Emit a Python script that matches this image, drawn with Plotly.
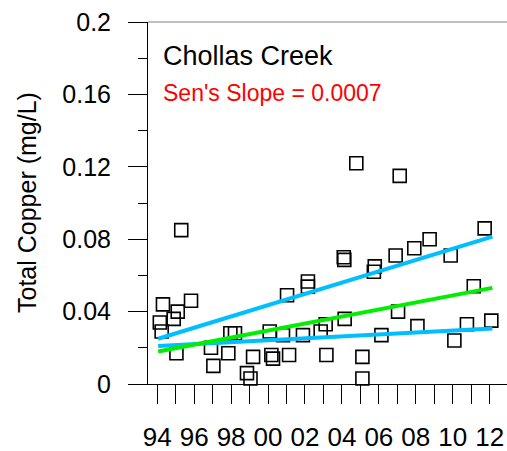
import plotly.graph_objects as go

# ---- data ----
sample_year = [1995.30, 1994.31, 1995.11, 1995.83, 1994.14, 1994.89, 1994.24, 1995.04,
               1997.96, 1998.21, 1996.91, 1997.85, 1997.04, 1999.19, 1998.86, 1999.05,
               2000.09, 2000.18, 2000.27, 2001.14, 2000.81, 2001.03, 2002.16, 2002.16,
               2001.89, 2003.12, 2002.85, 2004.15, 2003.16, 2004.10, 2004.13, 2005.11,
               2005.11, 2005.78, 2005.73, 2004.78, 2007.13, 2006.14, 2006.91, 2007.92,
               2008.75, 2009.89, 2011.73, 2007.04, 2008.09, 2011.14, 2010.77, 2010.09,
               2012.09]
copper = [0.085, 0.044, 0.040, 0.046, 0.034, 0.036, 0.029, 0.017,
          0.028, 0.028, 0.020, 0.017, 0.010, 0.015, 0.006, 0.003,
          0.029, 0.016, 0.014, 0.016, 0.027, 0.049, 0.0566, 0.0538,
          0.027, 0.033, 0.029, 0.036, 0.016, 0.070, 0.0686, 0.015,
          0.003, 0.065, 0.062, 0.122, 0.115, 0.027, 0.071, 0.075,
          0.080, 0.071, 0.086, 0.040, 0.032, 0.054, 0.033, 0.024,
          0.035]

trend_year = [1994.05, 2012.15]
upper_ci = [0.025, 0.0814]
sen_line = [0.018, 0.0531]
lower_ci = [0.021, 0.0307]

major_years = [1994, 1996, 1998, 2000, 2002, 2004, 2006, 2008, 2010, 2012]
major_labels = ["94", "96", "98", "00", "02", "04", "06", "08", "10", "12"]
minor_years = [1995, 1997, 1999, 2001, 2003, 2005, 2007, 2009, 2011]

site_name = "Chollas Creek"
slope_text = "Sen's Slope = 0.0007"
y_title = "Total Copper (mg/L)"

FONT = "Liberation Sans, Arial, sans-serif"
BLUE = "#00BFFF"
GREEN = "#00EE00"

fig = go.Figure()
fig.add_trace(go.Scatter(
    x=sample_year, y=copper, mode="markers", cliponaxis=False,
    marker=dict(symbol="square-open", size=13, color="black", line=dict(width=1.6, color="black")),
    showlegend=False))
fig.add_trace(go.Scatter(x=trend_year, y=upper_ci, mode="lines",
                         line=dict(color=BLUE, width=4), showlegend=False))
fig.add_trace(go.Scatter(x=trend_year, y=lower_ci, mode="lines",
                         line=dict(color=BLUE, width=4), showlegend=False))
fig.add_trace(go.Scatter(x=trend_year, y=sen_line, mode="lines",
                         line=dict(color=GREEN, width=4), showlegend=False))

fig.update_layout(
    width=507, height=451,
    margin=dict(l=148, r=0, t=22, b=67, autoexpand=False),
    paper_bgcolor="white", plot_bgcolor="white",
    font=dict(family=FONT, color="black"),
    showlegend=False,
    xaxis=dict(
        range=[1993.5, 2012.94], showgrid=False, zeroline=False, automargin=False,
        showline=True, linecolor="black", linewidth=1,
        tickmode="array", tickvals=major_years, ticktext=major_labels,
        ticks="outside", ticklen=19, tickcolor="black", tickwidth=1,
        tickfont=dict(size=26, family=FONT), ticklabelstandoff=11,
        minor=dict(tickmode="array", tickvals=minor_years, ticks="outside",
                   ticklen=19, tickcolor="black", tickwidth=1),
    ),
    yaxis=dict(
        range=[0, 0.2], showgrid=False, zeroline=False, automargin=False,
        showline=True, linecolor="black", linewidth=1,
        tickmode="array", tickvals=[0, 0.04, 0.08, 0.12, 0.16, 0.2],
        ticktext=["0", "0.04", "0.08", "0.12", "0.16", "0.2"],
        ticks="outside", ticklen=19, tickcolor="black", tickwidth=1,
        tickfont=dict(size=25, family=FONT), ticklabelstandoff=12,
        minor=dict(tickmode="array", tickvals=[0.02, 0.06, 0.10, 0.14, 0.18],
                   ticks="outside", ticklen=9, tickcolor="black", tickwidth=1),
    ),
    shapes=[dict(type="line", xref="paper", yref="paper", x0=0, x1=1, y0=1, y1=1,
                 line=dict(color="#808080", width=1))],
    annotations=[
        dict(text=y_title, xref="paper", yref="paper", x=-0.337, y=0.5,
             textangle=-90, showarrow=False, xanchor="center", yanchor="middle",
             font=dict(size=25, family=FONT, color="black")),
        dict(text=site_name, xref="paper", yref="paper", x=0.037, y=0.905,
             showarrow=False, xanchor="left", yanchor="middle",
             font=dict(size=27, family=FONT, color="black")),
        dict(text=slope_text, xref="paper", yref="paper", x=0.037, y=0.805,
             showarrow=False, xanchor="left", yanchor="middle",
             font=dict(size=23, family=FONT, color="red")),
    ],
)

fig.write_html(
    "out.html",
    config={"displayModeBar": False},
    post_script="document.body.style.margin='0';document.body.style.padding='0';"
                "document.documentElement.style.overflow='hidden';",
)
